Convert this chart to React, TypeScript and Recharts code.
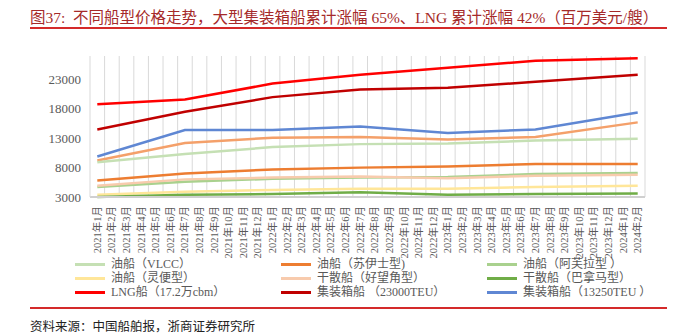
import React from "react";
import {
  LineChart,
  Line,
  XAxis,
  YAxis,
  CartesianGrid,
  Legend,
} from "recharts";

const months = [
  "2021年1月", "2021年2月", "2021年3月", "2021年4月", "2021年5月", "2021年6月",
  "2021年7月", "2021年8月", "2021年9月", "2021年10月", "2021年11月", "2021年12月",
  "2022年1月", "2022年2月", "2022年3月", "2022年4月", "2022年5月", "2022年6月",
  "2022年7月", "2022年8月", "2022年9月", "2022年10月", "2022年11月", "2022年12月",
  "2023年1月", "2023年2月", "2023年3月", "2023年4月", "2023年5月", "2023年6月",
  "2023年7月", "2023年8月", "2023年9月", "2023年10月", "2023年11月", "2023年12月",
  "2024年1月", "2024年2月",
];

// months that carry a price; the rest are bridged by connectNulls
const priceMonths = ["2021年1月", "2021年7月", "2022年1月", "2022年7月", "2023年1月", "2023年7月", "2024年2月"];

const vlcc = [8900, 10300, 11500, 12000, 12100, 12600, 12900];
const suezmax = [5800, 7000, 7700, 8000, 8200, 8600, 8600];
const aframax = [4700, 5600, 6100, 6300, 6400, 6900, 7100];
const handy = [3400, 3900, 4200, 4400, 4400, 4700, 4900];
const capesize = [4900, 6000, 6300, 6500, 6200, 6600, 6800];
const panamax = [3000, 3400, 3500, 3800, 3400, 3500, 3600];
const lng = [18800, 19600, 22300, 23800, 25000, 26200, 26600];
const teu23000 = [14500, 17500, 20000, 21300, 21600, 22600, 23800];
const teu13250 = [9900, 14400, 14400, 15000, 13900, 14500, 17400];
const unlabeled = [9200, 12200, 13100, 13200, 12800, 13200, 15700];

const yTicks = [3000, 8000, 13000, 18000, 23000];

const series = [
  { key: "extra", name: "", values: unlabeled, color: "#f4a06a", hidden: true },
  { key: "vlcc", name: "油船（VLCC）", values: vlcc, color: "#c5e0b4" },
  { key: "suezmax", name: "油船（苏伊士型)", values: suezmax, color: "#ed7d31" },
  { key: "aframax", name: "油船（阿芙拉型 ）", values: aframax, color: "#a9d18e" },
  { key: "handy", name: "油船（灵便型）", values: handy, color: "#ffe699" },
  { key: "capesize", name: "干散船（好望角型）", values: capesize, color: "#f8cbad" },
  { key: "panamax", name: "干散船（巴拿马型）", values: panamax, color: "#70ad47" },
  { key: "lng", name: "LNG船（17.2万cbm）", values: lng, color: "#ff0000" },
  { key: "teu23000", name: "集装箱船 （23000TEU）", values: teu23000, color: "#c00000" },
  { key: "teu13250", name: "集装箱船（13250TEU ）", values: teu13250, color: "#5f87d3" },
];

const data = months.map((m) => {
  const row: Record<string, string | number | null> = { month: m };
  const k = priceMonths.indexOf(m);
  series.forEach((s) => {
    row[s.key] = k >= 0 ? s.values[k] : null;
  });
  return row;
});

const FONT = "'Liberation Serif', 'Noto Sans CJK SC', serif";

// plot box
const PLOT_LEFT = 90;
const PLOT_RIGHT = 645;
const bandW = (PLOT_RIGHT - PLOT_LEFT) / months.length;
const gridX = months.map((_, i) => PLOT_LEFT + (i + 1) * bandW);

const MonthTick = (props: any) => {
  const { x, y, payload } = props;
  return (
    <text
      x={x}
      y={y}
      transform={`rotate(-90 ${x} ${y})`}
      textAnchor="end"
      dominantBaseline="central"
      fontSize={10.5}
      fontFamily={FONT}
      fill="#595959"
    >
      {payload.value}
    </text>
  );
};

const LegendGrid = (props: any) => {
  const order = series.map((s) => s.name);
  const items = (props.payload || [])
    .filter((p: any) => p.type !== "none" && p.value)
    .sort((a: any, b: any) => order.indexOf(a.value) - order.indexOf(b.value));
  return (
    <div
      style={{
        display: "grid",
        gridTemplateColumns: "206px 206px 200px",
        paddingLeft: 75,
        fontFamily: FONT,
        fontSize: 12,
        color: "#595959",
        lineHeight: "14px",
      }}
    >
      {items.map((it: any) => (
        <div key={it.value} style={{ display: "flex", alignItems: "center", whiteSpace: "nowrap" }}>
          <span style={{ display: "inline-block", width: 30, height: 3, background: it.color, marginRight: 6 }} />
          <span>{it.value}</span>
        </div>
      ))}
    </div>
  );
};

export default function App() {
  return (
    <div style={{ position: "absolute", left: 0, top: 0, width: 692, height: 334, background: "#fff" }}>
      <div
        style={{
          position: "absolute",
          left: 30,
          top: 5,
          fontFamily: FONT,
          fontSize: 15.5,
          color: "#a52a2a",
          whiteSpace: "nowrap",
        }}
      >
        图37:&nbsp;&nbsp;不同船型价格走势，大型集装箱船累计涨幅 65%、LNG 累计涨幅 42%（百万美元/艘）
      </div>
      <div style={{ position: "absolute", left: 30, top: 27, width: 637, height: 1.5, background: "#d42a2a" }} />

      <LineChart
        width={692}
        height={305}
        data={data}
        margin={{ top: 56, right: 692 - PLOT_RIGHT, left: 0, bottom: 0 }}
        style={{ position: "absolute", left: 0, top: 0 }}
      >
        <CartesianGrid horizontal={false} stroke="#d9d9d9" verticalPoints={gridX} />
        <XAxis
          dataKey="month"
          interval={0}
          padding={{ left: bandW / 2, right: bandW / 2 }}
          tickLine={false}
          tickSize={0}
          tickMargin={9}
          height={60}
          tick={<MonthTick />}
          axisLine={{ stroke: "#d0d0d0", strokeWidth: 2 }}
        />
        <YAxis
          width={PLOT_LEFT}
          domain={[3000, 27000]}
          ticks={yTicks}
          tickLine={false}
          tickSize={0}
          tickMargin={9}
          axisLine={{ stroke: "#d9d9d9" }}
          tick={{ fontSize: 13, fontFamily: FONT, fill: "#595959" }}
        />
        <Legend
          verticalAlign="bottom"
          content={<LegendGrid />}
          wrapperStyle={{ position: "absolute", top: 257, left: 0, width: 692, height: 48 }}
        />
        {series.map((s) => (
          <Line
            key={s.key}
            dataKey={s.key}
            name={s.name}
            stroke={s.color}
            strokeWidth={2.5}
            type="linear"
            dot={false}
            connectNulls
            legendType={s.hidden ? "none" : "line"}
            isAnimationActive={false}
          />
        ))}
      </LineChart>

      <div style={{ position: "absolute", left: 30, top: 307, width: 637, height: 1.5, background: "#d42a2a" }} />
      <div
        style={{
          position: "absolute",
          left: 30,
          top: 316,
          fontFamily: FONT,
          fontSize: 12.5,
          color: "#222",
          whiteSpace: "nowrap",
        }}
      >
        资料来源：中国船舶报，浙商证券研究所
      </div>
    </div>
  );
}
